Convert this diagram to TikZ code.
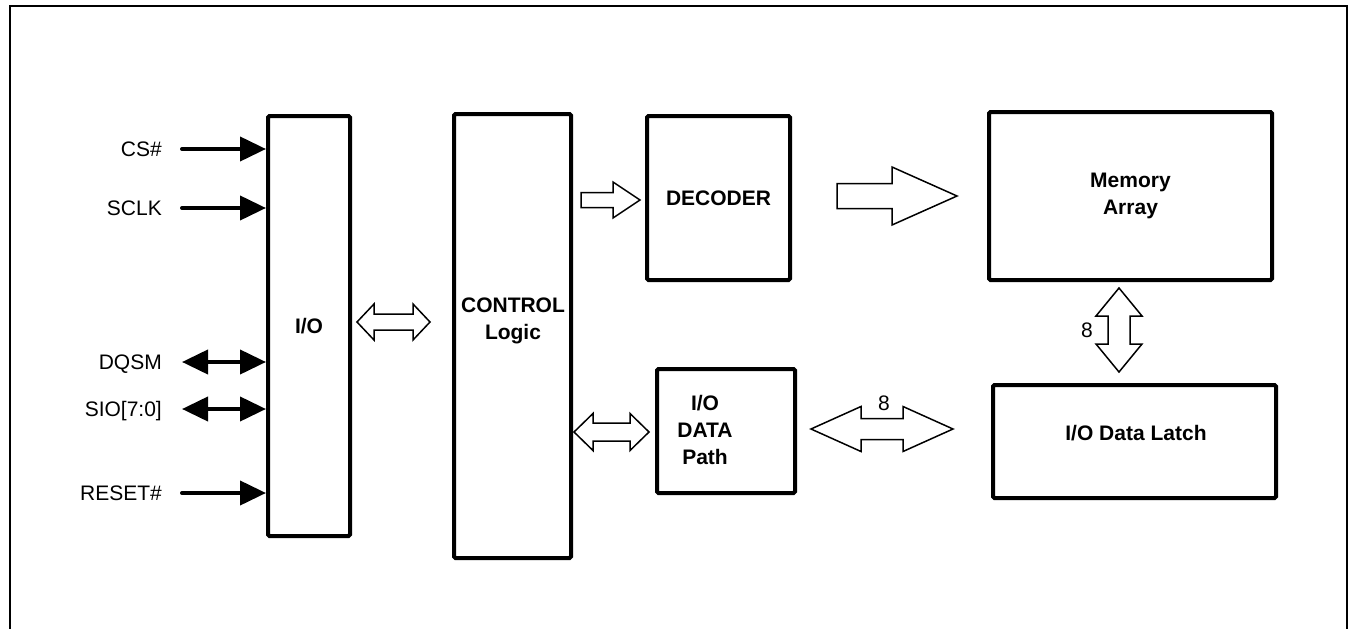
\documentclass[tikz,border=0pt]{standalone}
\usepackage{fontspec}
\setmainfont{Liberation Sans}
\usetikzlibrary{arrows.meta,calc}

% hollow bus arrows: tail/tip points, shaft half width, head half width, head length
\newcommand{\hsbus}[5]{%
  \draw[bus] let \p1=#1, \p2=#2 in
    (\x1,\y1+#3) -- (\x2-#5,\y1+#3) -- (\x2-#5,\y1+#4) -- (\x2,\y1)
    -- (\x2-#5,\y1-#4) -- (\x2-#5,\y1-#3) -- (\x1,\y1-#3) -- cycle;}
\newcommand{\hdbus}[5]{%
  \draw[bus] let \p1=#1, \p2=#2 in
    (\x1,\y1) -- (\x1+#5,\y1+#4) -- (\x1+#5,\y1+#3) -- (\x2-#5,\y1+#3)
    -- (\x2-#5,\y1+#4) -- (\x2,\y1) -- (\x2-#5,\y1-#4) -- (\x2-#5,\y1-#3)
    -- (\x1+#5,\y1-#3) -- (\x1+#5,\y1-#4) -- cycle;}
\newcommand{\vdbus}[5]{%
  \draw[bus] let \p1=#1, \p2=#2 in
    (\x1,\y1) -- (\x1+#4,\y1-#5) -- (\x1+#3,\y1-#5) -- (\x1+#3,\y2+#5)
    -- (\x1+#4,\y2+#5) -- (\x1,\y2) -- (\x1-#4,\y2+#5) -- (\x1-#3,\y2+#5)
    -- (\x1-#3,\y1-#5) -- (\x1-#4,\y1-#5) -- cycle;}

\begin{document}
\begin{tikzpicture}[x=1pt,y=-1pt,>={Triangle[length=26pt,width=24pt]},
  every node/.style={font=\fontsize{21}{27}\selectfont,align=center},
  blk/.style={draw,line width=4pt,rounded corners=1.5pt,inner sep=0pt},
  bold/.style={font=\fontsize{21}{27}\selectfont\bfseries},
  sigtext/.style={inner sep=0pt,text height=15pt,text depth=0pt,anchor=east},
  sig/.style={line width=4pt,line cap=round},
  bus/.style={draw,fill=white,line width=1.5pt}]
  \useasboundingbox (0,0) rectangle (1353,629);
  \draw[line width=2pt] (10,629) -- (10,6) -- (1347,6) -- (1347,629);

  % blocks
  \node[blk,bold,minimum width=82pt,minimum height=420pt] (io) at (309,326) {I/O};
  \node[blk,minimum width=117pt,minimum height=444pt] (ctrl) at (512.5,336) {};
  \node[bold] (ctrltext) at (513,321) {CONTROL\\Logic};
  \node[blk,bold,minimum width=143pt,minimum height=164pt] (dec) at (718.5,198) {DECODER};
  \node[blk,minimum width=138pt,minimum height=124pt] (dpath) at (726,431) {};
  \node[bold] (dpathtext) at (705,430) {I/O\\DATA\\Path};
  \node[blk,bold,minimum width=283pt,minimum height=168pt] (mem) at (1130.5,196) {Memory\\Array};
  \node[blk,minimum width=283pt,minimum height=113pt] (latch) at (1134.5,441.5) {};
  \node[bold] (latchtext) at (1136,433) {I/O Data Latch};

  % pins
  \node[sigtext] (cs) at (162,149) {CS\#};
  \node[sigtext] (sclk) at (162,208) {SCLK};
  \node[sigtext] (dqsm) at (162,362) {DQSM};
  \node[sigtext] (sio) at (162,409) {SIO[7:0]};
  \node[sigtext] (rst) at (162,493) {RESET\#};

  \draw[sig,->] ([xshift=20pt]cs.east) -- (cs.east -| io.west);
  \draw[sig,->] ([xshift=20pt]sclk.east) -- (sclk.east -| io.west);
  \draw[sig,<->] ([xshift=20pt]dqsm.east) -- (dqsm.east -| io.west);
  \draw[sig,<->] ([xshift=20pt]sio.east) -- (sio.east -| io.west);
  \draw[sig,->] ([xshift=20pt]rst.east) -- (rst.east -| io.west);

  % buses
  \hdbus{($(io.east)+(5,-4)$)}{($(ctrl.west)+(-22,0)$)}{8pt}{18pt}{17pt}
  \hsbus{($(ctrl.east |- dec.west)+(8,2)$)}{($(dec.west)+(-5,0)$)}{7.5pt}{18pt}{27pt}
  \hsbus{($(dec.east)+(45,-2)$)}{($(mem.west)+(-30,0)$)}{12.5pt}{29pt}{65pt}
  \hdbus{($(ctrl.east |- dpath.west)+(1,1)$)}{($(dpath.west)+(-6,0)$)}{9pt}{18.5pt}{19pt}
  \hdbus{($(dpath.east)+(14,-2)$)}{($(latch.west)+(-38,0)$)}{10.5pt}{22.5pt}{50pt}
  \vdbus{($(mem.south)+(-11.5,6)$)}{($(latch.north)+(0,-11)$)}{11pt}{23pt}{28pt}

  \node (w8h) at (884,403) {8};
  \node (w8v) at (1087,330) {8};
\end{tikzpicture}
\end{document}
